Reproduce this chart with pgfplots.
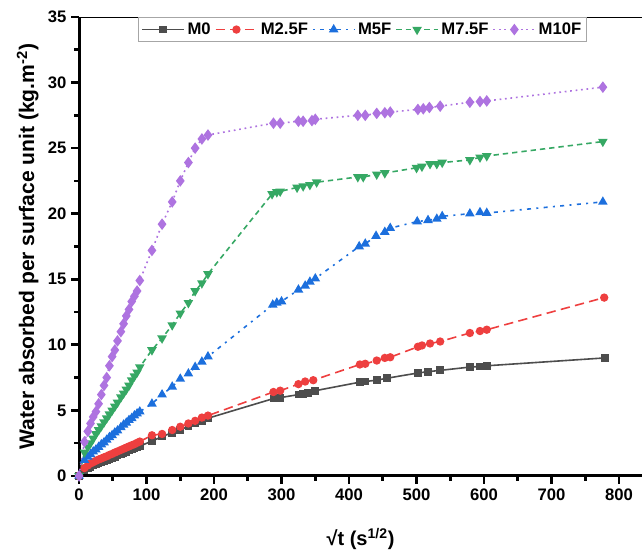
\documentclass[border=0pt]{standalone}
\usepackage{fontspec}
\setmainfont{Liberation Sans}
\usepackage{pgfplots}
\pgfplotsset{compat=1.18}
\usetikzlibrary{calc}
\definecolor{cMa}{HTML}{4D4D4D}
\definecolor{cMb}{HTML}{EE3F3F}
\definecolor{cMc}{HTML}{1C6FDD}
\definecolor{cMd}{HTML}{36A864}
\definecolor{cMe}{HTML}{AE73E0}
\begin{document}
\begin{tikzpicture}
\begin{axis}[
  scale only axis, width=422pt, height=344pt,
  xmin=0, xmax=834, ymin=0, ymax=35,
  axis x line*=bottom, axis y line*=left,
  axis line style={line width=2.2pt},
  xtick={0,100,...,800}, minor xtick={50,150,...,750},
  ytick={0,5,...,35}, minor ytick={2.5,7.5,...,32.5},
  tick align=outside, major tick length=6pt, minor tick length=3.5pt,
  every tick/.style={black, line width=2pt},
  xticklabels={\textbf{0},\textbf{100},\textbf{200},\textbf{300},\textbf{400},\textbf{500},\textbf{600},\textbf{700},\textbf{800}},
  yticklabels={\textbf{0},\textbf{5},\textbf{10},\textbf{15},\textbf{20},\textbf{25},\textbf{30},\textbf{35}},
  tick label style={font=\bfseries\fontsize{12.5}{14}\selectfont},
  xlabel={√t (s\textsuperscript{1/2})},
  ylabel={Water absorbed per surface unit (kg.m\textsuperscript{-2})},
  xlabel style={font=\bfseries\fontsize{15}{17}\selectfont, yshift=-14pt},
  ylabel style={font=\bfseries\fontsize{15.8}{17}\selectfont},
  legend style={at={(0.504,1.0)}, anchor=north, legend columns=5, draw=gray!70, line width=0.6pt,
    font=\bfseries\fontsize{12.5}{15}\selectfont, inner sep=2pt,
    /tikz/every even column/.append style={column sep=1pt}},
  legend image code/.code={\draw[mark repeat=2,mark phase=2] plot coordinates {(0cm,0cm) (0.55cm,0cm) (1.1cm,0cm)};},
  every axis plot/.append style={line width=1.2pt},
]
\addplot[color=cMa, solid, mark=square*, mark size=2.3pt, mark options={solid}] coordinates {
(0,0) (8,0.45) (13,0.6) (17,0.7) (21,0.8) (25,0.88) (29,0.95) (33,1.05) (37,1.12) (41,1.2) (45,1.3) (49,1.38) (53,1.47) (57,1.55) (62,1.66) (66,1.75) (70,1.84) (74,1.93) (78,2.02) (82,2.1) (86,2.2) (90,2.28)
(108,2.65) (123,3.0) (138,3.3) (150,3.5) (162,3.8) (172,4.0) (182,4.15) (191,4.4)
(288,5.9) (298,5.97) (325,6.2) (332,6.25) (339,6.3) (350,6.5) (416,7.15) (424,7.2) (441,7.3) (456,7.45) (502,7.85) (517,7.95) (535,8.05) (579,8.3) (594,8.35) (604,8.4) (779,9.0)};
\addlegendentry{M0}
\addplot[color=cMb, dash pattern=on 7pt off 4pt, mark=*, mark size=2.5pt, mark options={solid}] coordinates {
(0,0) (8,0.6) (13,0.8) (17,0.95) (21,1.05) (25,1.15) (29,1.25) (33,1.33) (37,1.42) (41,1.5) (45,1.6) (49,1.68) (53,1.78) (57,1.87) (62,1.98) (66,2.07) (70,2.16) (74,2.25) (78,2.34) (82,2.42) (86,2.52) (90,2.62)
(108,3.1) (123,3.2) (138,3.5) (150,3.75) (162,4.0) (172,4.2) (182,4.45) (191,4.6)
(288,6.4) (298,6.5) (325,7.0) (335,7.2) (347,7.3) (416,8.5) (424,8.55) (441,8.8) (453,9.0) (461,9.05) (502,9.85) (508,9.95) (520,10.1) (535,10.25) (579,10.9) (594,11.05) (604,11.15) (778,13.6)};
\addlegendentry{M2.5F}
\addplot[color=cMc, dash pattern=on 1.5pt off 4pt on 3pt off 4pt, mark=triangle*, mark size=3pt, mark options={solid}] coordinates {
(0,0) (8,1.2) (13,1.45) (17,1.65) (21,1.85) (25,2.0) (29,2.2) (33,2.4) (37,2.55) (41,2.75) (45,2.95) (49,3.1) (53,3.3) (57,3.45) (62,3.7) (66,3.9) (70,4.05) (74,4.25) (78,4.4) (82,4.6) (86,4.75) (90,4.9)
(108,5.5) (123,6.2) (138,6.8) (150,7.4) (162,7.8) (172,8.3) (182,8.7) (191,9.1)
(287,13.05) (293,13.2) (300,13.3) (325,14.2) (335,14.5) (342,14.8) (350,15.05) (415,17.5) (424,17.7) (440,18.3) (453,18.6) (461,18.9) (501,19.4) (517,19.5) (530,19.6) (538,19.8) (579,20.0) (594,20.1) (604,20.05) (776,20.9)};
\addlegendentry{M5F}
\addplot[color=cMd, dash pattern=on 4pt off 3pt, mark=triangle*, mark size=3pt, mark options={solid, rotate=180}] coordinates {
(0,0) (8,1.8) (13,2.2) (17,2.5) (21,2.85) (25,3.2) (29,3.5) (33,3.8) (37,4.1) (41,4.4) (45,4.7) (49,5.0) (53,5.3) (57,5.6) (62,6.0) (66,6.3) (70,6.6) (74,6.9) (78,7.3) (82,7.6) (86,7.9) (90,8.3)
(108,9.6) (123,10.5) (138,11.5) (150,12.4) (162,13.2) (172,14.1) (182,14.7) (191,15.4)
(286,21.5) (293,21.65) (298,21.7) (323,22.0) (332,22.1) (342,22.2) (352,22.4) (413,22.8) (421,22.8) (441,23.0) (453,23.1) (500,23.5) (508,23.6) (520,23.8) (530,23.8) (538,23.9) (579,24.1) (594,24.3) (604,24.4) (776,25.5)};
\addlegendentry{M7.5F}
\addplot[color=cMe, dash pattern=on 1.3pt off 2.8pt, mark=diamond*, mark size=3.4pt, mark options={solid}] coordinates {
(0,0) (8,2.6) (13,3.4) (17,4.0) (21,4.5) (25,4.9) (29,5.5) (33,6.2) (37,6.9) (41,7.5) (45,8.4) (49,9.1) (53,9.6) (57,10.3) (62,11.0) (66,11.6) (70,12.2) (74,12.7) (78,13.3) (82,13.7) (86,14.1) (90,14.9)
(108,17.2) (123,19.2) (138,20.9) (150,22.5) (162,23.9) (172,25.0) (182,25.7) (191,26.0)
(288,26.9) (298,26.9) (325,27.05) (332,27.05) (345,27.1) (350,27.2) (413,27.5) (424,27.5) (441,27.65) (453,27.7) (461,27.75) (502,27.95) (510,28.0) (519,28.1) (535,28.2) (579,28.5) (594,28.55) (604,28.6) (776,29.65)};
\addlegendentry{M10F}
\draw[line width=2.2pt] (rel axis cs:0,1) -- (rel axis cs:1,1);
\coordinate (sw) at (rel axis cs:0,0);
\coordinate (ne) at (rel axis cs:1,1);
\end{axis}
\pgfresetboundingbox
\path ($(sw)+(-59.25pt,-60.75pt)$) rectangle ($(ne)+(0pt,12.75pt)$);
\end{tikzpicture}
\end{document}
